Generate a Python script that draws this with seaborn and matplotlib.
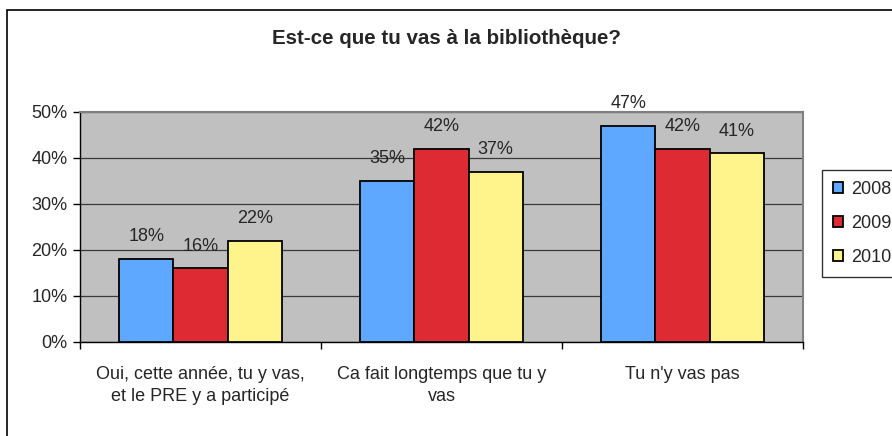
import pandas as pd
import matplotlib.pyplot as plt
import seaborn as sns
from matplotlib.patches import Rectangle
from matplotlib.ticker import FuncFormatter, FixedLocator

categories = ["Oui, cette année, tu y vas,\net le PRE y a participé",
              "Ca fait longtemps que tu y\nvas",
              "Tu n'y vas pas"]
years = ["2008", "2009", "2010"]
v2008 = [18, 35, 47]
v2009 = [16, 42, 42]
v2010 = [22, 37, 41]

colors = ["#5FA8FF", "#DE2A33", "#FFF48C"]

rows = []
for year, vals in zip(years, [v2008, v2009, v2010]):
    for cat, v in zip(categories, vals):
        rows.append({"cat": cat, "year": year, "val": v})
df = pd.DataFrame(rows)

sns.set_style("white")
plt.rcParams['font.family'] = ['Liberation Sans', 'DejaVu Sans']

fig = plt.figure(figsize=(8.92, 4.36), dpi=100)
W, H = 892, 436
ax = fig.add_axes([80 / W, 1 - 342 / H, (803 - 80) / W, (342 - 112) / H])

sns.barplot(data=df, x="cat", y="val", hue="year", palette=colors,
            saturation=1, width=0.675, edgecolor="black", linewidth=1.3,
            ax=ax, zorder=3)

ax.set_facecolor("#C0C0C0")
ax.set_ylim(0, 50)
ax.set_xlim(-0.5, 2.5)
ax.set_yticks([0, 10, 20, 30, 40, 50])
ax.yaxis.set_major_formatter(FuncFormatter(lambda x, p: f"{int(x)}%"))
ax.grid(axis="y", color="#3a3a3a", linewidth=0.9, zorder=0)
ax.set_axisbelow(True)
ax.set_xlabel("")
ax.set_ylabel("")

for s in ["top", "right"]:
    ax.spines[s].set_color("#808080")
    ax.spines[s].set_linewidth(1.5)
for s in ["left", "bottom"]:
    ax.spines[s].set_color("black")
    ax.spines[s].set_linewidth(1)

ax.set_xticks(range(len(categories)))
ax.set_xticklabels(categories, linespacing=1.45)
ax.tick_params(axis="y", direction="out", length=5, width=1, color="black",
               labelsize=13, pad=4, left=True)
ax.tick_params(axis="x", which="major", length=0, labelsize=13, pad=17)
ax.xaxis.set_minor_locator(FixedLocator([-0.5, 0.5, 1.5, 2.5]))
ax.tick_params(axis="x", which="minor", direction="out", length=5, width=1,
               color="black", bottom=True)

for cont in ax.containers:
    ax.bar_label(cont, labels=[f"{int(v)}%" for v in cont.datavalues],
                 padding=10, fontsize=13)

leg = ax.legend(loc="upper left", bbox_to_anchor=(822 / W, 1 - 170 / H),
                bbox_transform=fig.transFigure, frameon=True, fancybox=False,
                fontsize=13, handlelength=0.55, handleheight=0.55,
                handletextpad=0.45, labelspacing=0.95, borderpad=0.6,
                borderaxespad=0)
leg.get_frame().set_edgecolor("black")
leg.get_frame().set_linewidth(1)

fig.text(446 / W, 1 - 38 / H, "Est-ce que tu vas à la bibliothèque?",
         ha="center", va="center", fontsize=14.8, fontweight="bold")

fig.patches.append(Rectangle((7 / W, -0.1), 1.2, 1 - 10 / H + 0.1,
                             transform=fig.transFigure, fill=False,
                             edgecolor="black", linewidth=1.2))

fig.savefig("out.png", dpi=100)
